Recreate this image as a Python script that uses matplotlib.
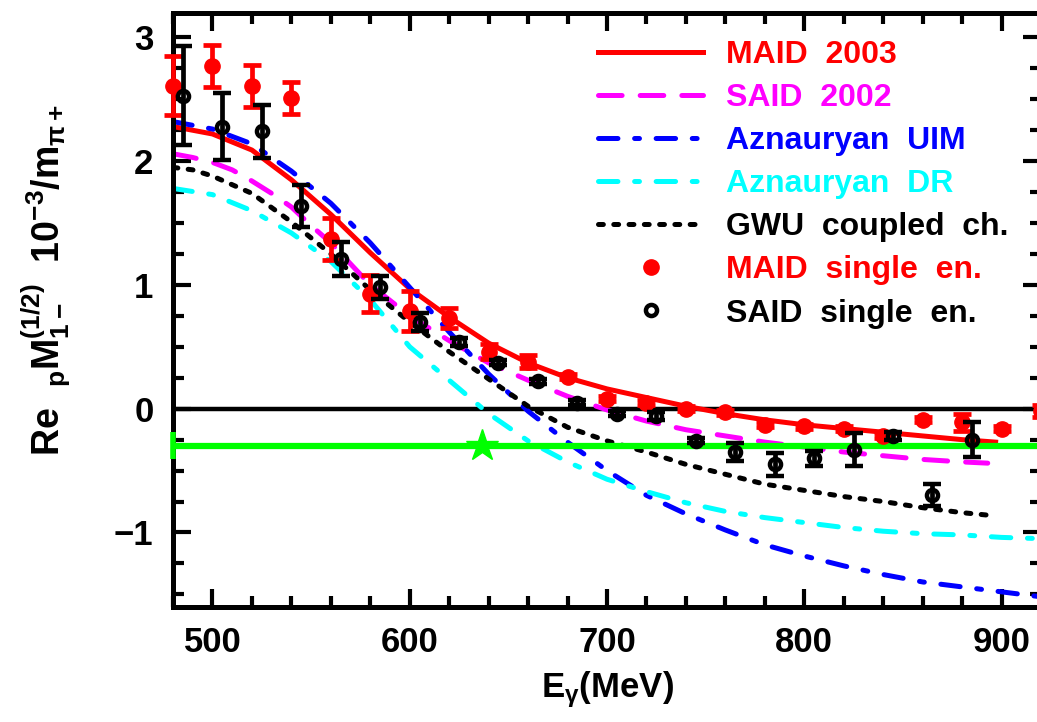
import numpy as np
import matplotlib
matplotlib.use('Agg')
import matplotlib.pyplot as plt
import matplotlib.ticker as tic
from matplotlib.lines import Line2D

plt.rcParams['font.family'] = ['Liberation Sans', 'DejaVu Sans']
plt.rcParams['font.weight'] = 'bold'
plt.rcParams['axes.labelweight'] = 'bold'
plt.rcParams['mathtext.fontset'] = 'custom'
plt.rcParams['mathtext.default'] = 'regular'
plt.rcParams['mathtext.rm'] = 'Liberation Sans:bold'
plt.rcParams['mathtext.it'] = 'Liberation Sans:bold'
plt.rcParams['mathtext.bf'] = 'Liberation Sans:bold'
plt.rcParams['mathtext.sf'] = 'Liberation Sans:bold'
plt.rcParams['lines.scale_dashes'] = False

# model curves, E_gamma in MeV
E_maid = [480, 500, 520, 540, 560, 580, 600, 620, 640, 660, 680, 700, 720, 740,
          760, 780, 800, 820, 840, 860, 880, 897]
maid03 = [2.28, 2.22, 2.09, 1.85, 1.57, 1.26, 0.97, 0.74, 0.53, 0.37, 0.25, 0.16,
          0.09, 0.02, -0.04, -0.09, -0.13, -0.16, -0.19, -0.22, -0.25, -0.27]

E_said = [480, 490, 500, 510, 520, 530, 540, 550, 560, 580, 600, 620, 640, 660,
          680, 700, 720, 740, 760, 780, 800, 820, 840, 860, 880, 893]
said02 = [2.06, 2.03, 1.99, 1.93, 1.84, 1.74, 1.63, 1.48, 1.34, 1.00, 0.75, 0.55,
          0.37, 0.23, 0.10, -0.01, -0.10, -0.17, -0.22, -0.27, -0.31, -0.35,
          -0.38, -0.41, -0.43, -0.44]

E_azn = [480, 500, 520, 540, 560, 580, 600, 620, 640, 660, 680, 700, 720, 740,
         760, 780, 800, 820, 840, 860, 880, 900, 920]
uim = [2.32, 2.26, 2.14, 1.92, 1.66, 1.34, 0.98, 0.62, 0.28, -0.02, -0.27, -0.50,
       -0.70, -0.85, -0.98, -1.10, -1.19, -1.27, -1.34, -1.40, -1.44, -1.48, -1.52]
dr = [1.78, 1.73, 1.60, 1.42, 1.19, 0.88, 0.50, 0.23, -0.04, -0.26, -0.43, -0.57,
      -0.67, -0.76, -0.83, -0.88, -0.92, -0.96, -0.99, -1.01, -1.02, -1.04, -1.05]

E_gwu = [480, 490, 500, 520, 540, 560, 580, 600, 620, 640, 660, 680, 700, 720,
         740, 760, 780, 800, 820, 840, 860, 880, 893]
gwu = [1.95, 1.93, 1.88, 1.74, 1.51, 1.25, 0.96, 0.70, 0.46, 0.24, 0.02, -0.15,
       -0.26, -0.35, -0.45, -0.53, -0.61, -0.66, -0.71, -0.75, -0.80, -0.84, -0.86]

# single-energy fits
E_maid_se = [480, 500, 520, 540, 560, 580, 600, 620, 640, 660, 680, 700, 720, 740,
             760, 780, 800, 820, 840, 860, 880, 900, 920]
maid_se = [2.61, 2.77, 2.61, 2.51, 1.37, 0.93, 0.79, 0.73, 0.46, 0.38, 0.26, 0.08,
           0.05, 0.00, -0.03, -0.13, -0.14, -0.16, -0.22, -0.09, -0.11, -0.16, -0.02]
maid_se_err = [0.24, 0.17, 0.17, 0.13, 0.17, 0.15, 0.16, 0.08, 0.06, 0.05, 0.02, 0.02,
               0.02, 0.02, 0.02, 0.02, 0.02, 0.02, 0.02, 0.02, 0.07, 0.02, 0.05]

E_said_se = [485, 505, 525, 545, 565, 585, 605, 625, 645, 665, 685, 705, 725, 745,
             765, 785, 805, 825, 845, 865, 885]
said_se = [2.53, 2.28, 2.24, 1.64, 1.21, 0.98, 0.70, 0.54, 0.37, 0.22, 0.05, -0.04,
           -0.06, -0.26, -0.35, -0.45, -0.40, -0.33, -0.22, -0.70, -0.25]
said_se_err = [0.40, 0.27, 0.215, 0.17, 0.14, 0.09, 0.07, 0.03, 0.02, 0.02, 0.02, 0.02,
               0.03, 0.02, 0.07, 0.09, 0.06, 0.13, 0.03, 0.09, 0.14]

# green reference level and star
green_level = -0.30
E_star = 636.5
green_err = 0.11

labels = ['MAID  2003', 'SAID  2002', 'Aznauryan  UIM', 'Aznauryan  DR',
          'GWU  coupled  ch.', 'MAID  single  en.', 'SAID  single  en.']
colors = ['red', 'magenta', 'blue', 'cyan', 'black', 'red', 'black']

fig = plt.figure(figsize=(10.37, 7.22), dpi=100)
ax = fig.add_axes([173/1037, 115.3/722, 868/1037, 594/722])

lw = 3.6
ax.axhline(0, color='black', lw=3.2, zorder=1)
l1, = ax.plot(E_maid, maid03, color='red', lw=lw, zorder=2)
l2, = ax.plot(E_said, said02, color='magenta', lw=lw, zorder=2.1,
              dashes=(17, 13), dash_capstyle='round')
l3, = ax.plot(E_azn, uim, color='blue', lw=lw, zorder=2.2,
              dashes=(14, 12, 3.5, 12), dash_capstyle='round')
l4, = ax.plot(E_azn, dr, color='cyan', lw=lw, zorder=2.3,
              dashes=(14, 12, 3.5, 12), dash_capstyle='round')
l5, = ax.plot(E_gwu, gwu, color='black', lw=lw, zorder=2.4,
              dashes=(3.5, 7.5), dash_capstyle='round')

ax.axhline(green_level, color='#00ff00', lw=4.5, zorder=3)
ax.plot([E_star], [green_level], marker='*', ms=24, color='#00ff00', zorder=3)
ax.errorbar([480], [green_level], yerr=[green_err], fmt='none', ecolor='#00ff00',
            elinewidth=4, capsize=0, zorder=3, clip_on=False)

eb1 = ax.errorbar(E_maid_se, maid_se, yerr=maid_se_err, fmt='o', color='red',
                  ms=11, elinewidth=3.4, capsize=6.5, capthick=3.4, zorder=4)
eb2 = ax.errorbar(E_said_se, said_se, yerr=said_se_err, fmt='o', color='black',
                  mfc='none', mec='black', ms=8, mew=3.2, elinewidth=3.4,
                  capsize=6.5, capthick=3.4, zorder=5)
for eb in (eb1, eb2):
    for art in eb.get_children():
        art.set_clip_on(False)

ax.set_xlim(480, 920)
ax.set_ylim(-1.6, 3.2)
ax.xaxis.set_major_locator(tic.MultipleLocator(100))
ax.xaxis.set_minor_locator(tic.MultipleLocator(20))
ax.yaxis.set_major_locator(tic.MultipleLocator(1))
ax.yaxis.set_minor_locator(tic.MultipleLocator(0.25))
ax.yaxis.set_major_formatter(tic.FuncFormatter(lambda v, p: '%d' % v if v >= 0 else '\u2212%d' % -v))
ax.tick_params(which='both', direction='in', top=True, right=True, width=3,
               labelsize=25, pad=14)
ax.tick_params(which='major', length=13)
ax.tick_params(which='minor', length=8)
for s in ax.spines.values():
    s.set_linewidth(3.6)

ax.set_xlabel(r'E$_{\gamma}$(MeV)', fontsize=25, fontweight='bold', labelpad=7)
ax.set_ylabel(r'Re  $_{p}$M$_{1-}^{(1/2)}$  10$^{-3}$/m$_{\pi+}$', fontsize=27,
              fontweight='bold', va='center')
ax.yaxis.set_label_coords(-0.147, 0.55)

handles = [l1, l2, l3, l4, l5,
           Line2D([], [], ls='none', marker='o', ms=11, color='red'),
           Line2D([], [], ls='none', marker='o', ms=8, mfc='none', mec='black', mew=3.2)]
leg = ax.legend(handles, labels, loc='upper left', bbox_to_anchor=(598/1037, 1 - 40/722),
                bbox_transform=fig.transFigure, frameon=False, fontsize=23,
                handlelength=3.3, handletextpad=0.7, labelspacing=0.41,
                borderpad=0, borderaxespad=0, numpoints=1)
for t, c in zip(leg.get_texts(), colors):
    t.set_color(c)

fig.savefig('out.png', dpi=100)
